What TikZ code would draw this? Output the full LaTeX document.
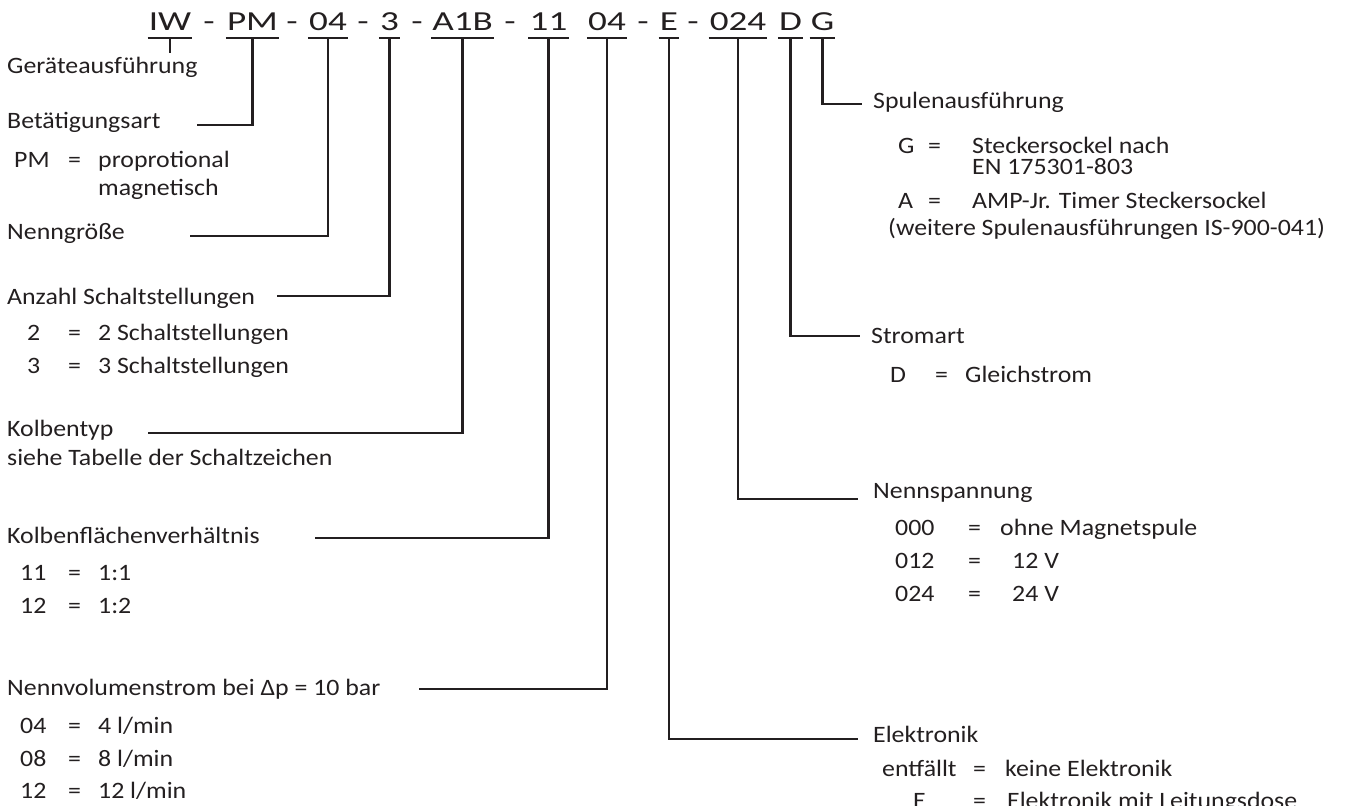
\documentclass[tikz,border=0pt]{standalone}
\usepackage{fontspec}
\setmainfont{Carlito}
\newfontfamily\codefont[FakeStretch=1.35]{Carlito}
\newfontfamily\labelfont[FakeStretch=1.1]{Carlito}
\definecolor{inkGray}{RGB}{35,31,32}
% key, "=" and value of one option row
\newcommand{\opt}[4]{\makebox[#1pt][l]{#2}\makebox[#3pt][l]{=}#4}

\begin{document}
\begin{tikzpicture}[x=1pt, y=-1pt,
    code/.style={font=\codefont\fontsize{27.5}{30}\selectfont, text=inkGray, anchor=base,
                 inner xsep=1pt, inner ysep=0pt, text depth=8pt},
    lab/.style={font=\labelfont\fontsize{23.5}{28}\selectfont, text=inkGray, anchor=base west, inner sep=0pt},
    rule/.style={draw=inkGray, line width=2.4pt}]
  \useasboundingbox (0,0) rectangle (1347,806);

  % type code
  \node[code] (codeIW) at (170,30) {IW};
  \node[code] (dash1) at (209,30) {-};
  \node[code] (codePM) at (252.5,30) {PM};
  \node[code] (dash2) at (292,30) {-};
  \node[code] (codeNG) at (328,30) {04};
  \node[code] (dash3) at (363,30) {-};
  \node[code] (codeAS) at (389.5,30) {3};
  \node[code] (dash4) at (417,30) {-};
  \node[code] (codeKT) at (462.5,30) {A1B};
  \node[code] (dash5) at (510,30) {-};
  \node[code] (codeKV) at (548.5,30) {11};
  \node[code] (codeNV) at (607,30) {04};
  \node[code] (dash6) at (643,30) {-};
  \node[code] (codeEL) at (669,30) {E};
  \node[code] (dash7) at (693,30) {-};
  \node[code] (codeNS) at (738,30) {024};
  \node[code] (codeSA) at (790.5,30) {D};
  \node[code] (codeSP) at (822.5,30) {G};
  \foreach \c in {codeIW,codePM,codeNG,codeAS,codeKT,codeKV,codeNV,codeEL,codeNS,codeSA,codeSP}
    \draw[rule] (\c.south west) -- (\c.south east);

  % left column
  \node[lab] (labGeraet) at (7,73) {Geräteausführung};
  \node[lab] (labBetaet) at (7,128) {Betätigungsart};
  \node[lab] (rowPM) at (14,167) {\opt{54}{PM}{30}{proprotional}};
  \node[lab] (rowPMb) at (98,195) {magnetisch};
  \node[lab] (labNenngr) at (7,239) {Nenngröße};
  \node[lab] (labAnzahl) at (7,304) {Anzahl Schaltstellungen};
  \node[lab] (rowAS2) at (27,340) {\opt{41}{2}{30}{2 Schaltstellungen}};
  \node[lab] (rowAS3) at (27,373) {\opt{41}{3}{30}{3 Schaltstellungen}};
  \node[lab] (labKolben) at (7,436) {Kolbentyp};
  \node[lab] (rowKolben) at (7,465) {siehe Tabelle der Schaltzeichen};
  \node[lab] (labFlaeche) at (7,543) {Kolbenflächenverhältnis};
  \node[lab] (rowKV11) at (20,580) {\opt{48}{11}{30}{1:1}};
  \node[lab] (rowKV12) at (20,613) {\opt{48}{12}{30}{1:2}};
  \node[lab] (labVolumen) at (7,695) {Nennvolumenstrom bei Δp = 10 bar};
  \node[lab] (rowNV04) at (20,733) {\opt{48}{04}{30}{4 l/min}};
  \node[lab] (rowNV08) at (20,766) {\opt{48}{08}{30}{8 l/min}};
  \node[lab] (rowNV12) at (20,798) {\opt{48}{12}{30}{12 l/min}};

  % right column
  \node[lab] (labSpule) at (873,108) {Spulenausführung};
  \node[lab] (rowSpG) at (898,153) {\opt{30}{G}{44}{Steckersockel nach}};
  \node[lab] (rowSpGb) at (972,174) {EN 175301-803};
  \node[lab] (rowSpA) at (898,208) {\opt{30}{A}{44}{AMP-Jr. Timer Steckersockel}};
  \node[lab] (rowSpMore) at (888,235) {(weitere Spulenausführungen IS-900-041)};
  \node[lab] (labStrom) at (871,343) {Stromart};
  \node[lab] (rowStD) at (890,382) {\opt{45}{D}{30}{Gleichstrom}};
  \node[lab] (labSpannung) at (873,498) {Nennspannung};
  \node[lab] (rowNS000) at (895,535) {\opt{73}{000}{32}{ohne Magnetspule}};
  \node[lab] (rowNS012) at (895,568) {\opt{73}{012}{44}{12 V}};
  \node[lab] (rowNS024) at (895,601) {\opt{73}{024}{44}{24 V}};
  \node[lab] (labElektronik) at (873,742) {Elektronik};
  \node[lab] (rowELno) at (882,776) {\opt{91}{entfällt}{32}{keine Elektronik}};
  \node[lab] (rowELe) at (913,808) {\opt{60}{E}{34}{Elektronik mit Leitungsdose}};

  % free ends of the leader lines
  \coordinate (endBetaet) at (197,125);
  \coordinate (endNenngr) at (190,236);
  \coordinate (endAnzahl) at (277,296);
  \coordinate (endKolben) at (148,433);
  \coordinate (endFlaeche) at (315,538);
  \coordinate (endVolumen) at (419,689);
  \coordinate (endSpule) at (862,104);
  \coordinate (endStrom) at (860,336);
  \coordinate (endSpannung) at (858,499);
  \coordinate (endElektronik) at (858,739);

  \draw[rule, shorten >=3pt] (codeIW.south) -- (codeIW.south |- labGeraet.north);
  \draw[rule] (codePM.south) |- (endBetaet);
  \draw[rule] (codeNG.south) |- (endNenngr);
  \draw[rule] (codeAS.south) |- (endAnzahl);
  \draw[rule] (codeKT.south) |- (endKolben);
  \draw[rule] (codeKV.south) |- (endFlaeche);
  \draw[rule] (codeNV.south) |- (endVolumen);
  \draw[rule] (codeEL.south) |- (endElektronik);
  \draw[rule] (codeNS.south) |- (endSpannung);
  \draw[rule] (codeSA.south) |- (endStrom);
  \draw[rule] (codeSP.south) |- (endSpule);
\end{tikzpicture}
\end{document}
